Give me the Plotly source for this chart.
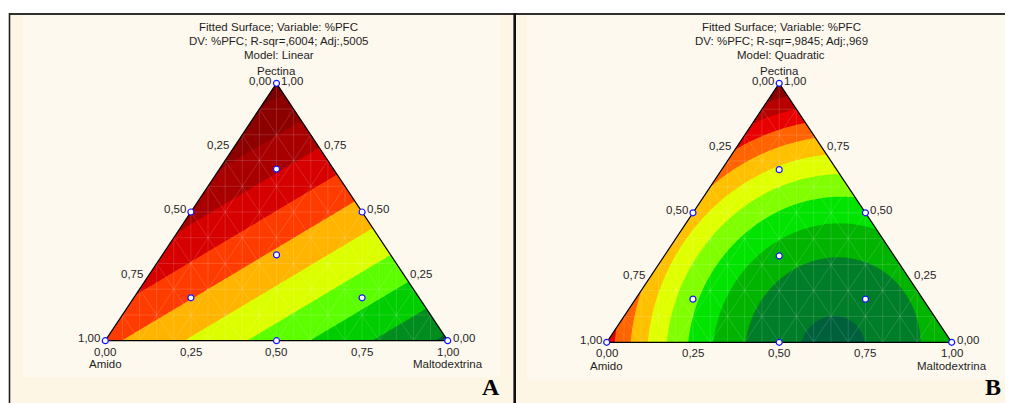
import numpy as np
import plotly.graph_objects as go

# page body has an 8px margin: figure is drawn from (8, 8) of the 1013x403 window
OFF = 8
W, H = 1013 - OFF, 403 - OFF

# ---------------- data ----------------
tick_vals = [0.0, 0.25, 0.5, 0.75, 1.0]
tick_text = ["0,00", "0,25", "0,50", "0,75", "1,00"]
axis_names = ["Amido", "Pectina", "Maltodextrina"]

# simplex-centroid design with axial points (fractions)
design_amido = [1.0, 0.0, 0.0, 0.5, 0.5, 0.0, 2 / 3, 1 / 6, 1 / 6, 1 / 3]
design_pectina = [0.0, 1.0, 0.0, 0.5, 0.0, 0.5, 1 / 6, 2 / 3, 1 / 6, 1 / 3]
design_malto = [0.0, 0.0, 1.0, 0.0, 0.5, 0.5, 1 / 6, 1 / 6, 2 / 3, 1 / 3]

# fitted model coefficients (contour-level units)
linear_coef = [5.76, 9.90, 0.30]                         # b_Amido, b_Pectina, b_Malto
quad_coef = [8.04, 10.58, 2.46, -12.73, -17.86, -14.2]   # b1, b2, b3, b12, b13, b23

levels_a = [0.5, 1.5, 2.5, 3.5, 4.5, 5.5, 6.5, 7.5, 8.5, 9.5]
levels_b = [0.5, 1.5, 2.5, 3.5, 4.5, 5.5, 6.5, 7.5, 8.5, 9.5, 10.5]

colors_a = ["#00553A", "#008C1E", "#00CE00", "#5CFF00", "#DCFF00", "#FFB400",
            "#FF3C00", "#D60000", "#A80000", "#8C0000", "#780000"]
colors_b = ["#00603C", "#007D28", "#00B400", "#00E400", "#80FF00", "#E0FF00",
            "#FFC000", "#FF6400", "#E80000", "#B80000", "#8C0000", "#700000"]

titles_a = ["Fitted Surface; Variable: %PFC", "DV: %PFC; R-sqr=,6004; Adj:,5005", "Model: Linear"]
titles_b = ["Fitted Surface; Variable: %PFC", "DV: %PFC; R-sqr=,9845; Adj:,969", "Model: Quadratic"]
panel_letters = ["A", "B"]

# ---------------- layout geometry (window pixels) ----------------
FONT = "Liberation Sans, Arial, sans-serif"
OUTER_BG = "#FEF6E4"
INNER_BG = "#FEF9EE"
TXT = "#1E1E1E"
EXT = 0.06  # axis range padding around the unit triangle box


def px(x):
    return (x - OFF) / W


def py(y):
    return 1 - (y - OFF) / H


# triangle boxes: (left, right, top, bottom) in window pixels
tri_a = (105.3, 447.7, 83.3, 340.7)
tri_b = (606.7, 951.7, 83.3, 342.3)


def domains(tri):
    l, r, t, b = tri
    w, h = r - l, b - t
    xd = [px(l - EXT * w), px(r + EXT * w)]
    yd = [py(b + EXT * h), py(t - EXT * h)]
    return xd, yd


fig = go.Figure()

n = 241
gx = np.linspace(0, 1, n)
gy = np.linspace(0, 1, n)
GX, GY = np.meshgrid(gx, gy)
P = GY
M = GX - GY / 2
A = 1 - M - P


def linear_surface(c):
    return c[0] * A + c[1] * P + c[2] * M


def quad_surface(c):
    return (c[0] * A + c[1] * P + c[2] * M + c[3] * A * P + c[4] * A * M + c[5] * P * M)


def to_xy(a, p, m):
    a, p, m = np.asarray(a), np.asarray(p), np.asarray(m)
    return m + p / 2, p


def add_panel(idx, z, levels, colors, titles, tri):
    xa = "x" if idx == 0 else "x2"
    ya = "y" if idx == 0 else "y2"
    nb = len(colors)
    cscale = [[j / (nb - 1), c] for j, c in enumerate(colors)]
    fig.add_trace(go.Contour(
        x=gx, y=gy, z=z, xaxis=xa, yaxis=ya,
        autocontour=False,
        contours=dict(start=levels[0], end=levels[-1], size=levels[1] - levels[0],
                      coloring="fill", showlines=False),
        line=dict(width=0, smoothing=0),
        colorscale=cscale, showscale=False, hoverinfo="skip"))

    # faint mesh lines inside the triangle
    lx, ly = [], []
    for k in range(1, 10):
        v = k / 10
        lx += [v / 2, 1 - v / 2, None]; ly += [v, v, None]                 # constant Pectina
        lx += [v, v + (1 - v) / 2, None]; ly += [0, 1 - v, None]           # constant Malto
        lx += [1 - v, (1 - v) / 2, None]; ly += [0, 1 - v, None]           # constant Amido
    for k in range(1, 20):
        c = k / 20
        top = 2 * c if c <= 0.5 else 2 * (1 - c)
        lx += [c, c, None]; ly += [0, top, None]
    fig.add_trace(go.Scatter(x=lx, y=ly, xaxis=xa, yaxis=ya, mode="lines",
                             line=dict(color="rgba(255,255,255,0.2)", width=0.7),
                             hoverinfo="skip", showlegend=False))

    # mask outside the triangle (extends past the contour box)
    e = EXT / 2
    fig.add_trace(go.Scatter(
        x=[0, 0.5, 0.5, -e, -e, 0, None, 1, 0.5, 0.5, 1 + e, 1 + e, 1],
        y=[0, 1, 1 + e, 1 + e, -e, -e, None, 0, 1, 1 + e, 1 + e, -e, -e],
        xaxis=xa, yaxis=ya, mode="lines", fill="toself",
        fillcolor=INNER_BG, line=dict(width=0, color=INNER_BG),
        hoverinfo="skip", showlegend=False))
    fig.add_trace(go.Scatter(
        x=[-e, 1 + e, 1 + e, -e, -e], y=[0, 0, -e, -e, 0],
        xaxis=xa, yaxis=ya, mode="lines", fill="toself",
        fillcolor=INNER_BG, line=dict(width=0, color=INNER_BG),
        hoverinfo="skip", showlegend=False))
    # triangle outline
    fig.add_trace(go.Scatter(x=[0, 0.5, 1, 0], y=[0, 1, 0, 0], xaxis=xa, yaxis=ya,
                             mode="lines", line=dict(color="black", width=1.2),
                             hoverinfo="skip", showlegend=False))
    # design points
    dx, dy = to_xy(design_amido, design_pectina, design_malto)
    fig.add_trace(go.Scatter(x=dx, y=dy, xaxis=xa, yaxis=ya, mode="markers",
                             marker=dict(size=6, color="white",
                                         line=dict(color="#1414FF", width=1.2)),
                             hoverinfo="skip", showlegend=False))

    fnt = dict(family=FONT, size=11.5, color=TXT)
    for v, t in zip(tick_vals, tick_text):  # left edge: Amido fraction
        x, y = to_xy(v, 1 - v, 0)
        fig.add_annotation(x=float(x), y=float(y), xref=xa, yref=ya, text=t, showarrow=False,
                           xanchor="right", yanchor="middle", xshift=-3, yshift=2.5, font=fnt)
    for v, t in zip(tick_vals, tick_text):  # right edge: Pectina fraction
        x, y = to_xy(0, v, 1 - v)
        fig.add_annotation(x=float(x), y=float(y), xref=xa, yref=ya, text=t, showarrow=False,
                           xanchor="left", yanchor="middle", xshift=3, yshift=2.5, font=fnt)
    for v, t in zip(tick_vals, tick_text):  # bottom edge: Maltodextrina fraction
        x, y = to_xy(1 - v, 0, v)
        fig.add_annotation(x=float(x), y=float(y), xref=xa, yref=ya, text=t, showarrow=False,
                           xanchor="center", yanchor="middle", yshift=-11, font=fnt)
    fig.add_annotation(x=0, y=0, xref=xa, yref=ya, text=axis_names[0], showarrow=False,
                       xanchor="center", yanchor="middle", yshift=-23.5, font=fnt)
    fig.add_annotation(x=0.5, y=1, xref=xa, yref=ya, text=axis_names[1], showarrow=False,
                       xanchor="center", yanchor="middle", yshift=12.5, font=fnt)
    fig.add_annotation(x=1, y=0, xref=xa, yref=ya, text=axis_names[2], showarrow=False,
                       xanchor="center", yanchor="middle", yshift=-23.5, font=fnt)

    cx = (tri[0] + tri[1]) / 2 + 2
    for t, yy in zip(titles, [27.3, 41.4, 54.6]):
        fig.add_annotation(x=px(cx), y=py(yy), xref="paper", yref="paper", text=t,
                           showarrow=False, xanchor="center", yanchor="middle", font=fnt)


add_panel(0, linear_surface(linear_coef), levels_a, colors_a, titles_a, tri_a)
add_panel(1, quad_surface(quad_coef), levels_b, colors_b, titles_b, tri_b)

for letter, (lx_, ly_) in zip(panel_letters, [(491, 386.5), (993, 386.5)]):
    fig.add_annotation(x=px(lx_), y=py(ly_), xref="paper", yref="paper",
                       text="<b>" + letter + "</b>", showarrow=False,
                       xanchor="center", yanchor="middle",
                       font=dict(family="Liberation Serif, Times New Roman, serif", size=24, color="black"))

shapes = [
    dict(type="rect", xref="paper", yref="paper", x0=px(9.5), x1=px(514.5), y0=py(410), y1=py(14),
         fillcolor=OUTER_BG, line=dict(width=0), layer="below"),
    dict(type="rect", xref="paper", yref="paper", x0=px(514.5), x1=px(1020), y0=py(410), y1=py(14),
         fillcolor=OUTER_BG, line=dict(width=0), layer="below"),
    dict(type="rect", xref="paper", yref="paper", x0=px(23), x1=px(500), y0=py(377), y1=py(14.5),
         fillcolor=INNER_BG, line=dict(width=0), layer="below"),
    dict(type="rect", xref="paper", yref="paper", x0=px(527), x1=px(1020), y0=py(379.3), y1=py(14.5),
         fillcolor=INNER_BG, line=dict(width=0), layer="below"),
    dict(type="line", xref="paper", yref="paper", x0=px(9), x1=px(1020), y0=py(14), y1=py(14),
         line=dict(color="#303030", width=2)),
    dict(type="line", xref="paper", yref="paper", x0=px(9.5), x1=px(9.5), y0=py(13), y1=py(410),
         line=dict(color="#202020", width=1.6)),
    dict(type="line", xref="paper", yref="paper", x0=px(514.7), x1=px(514.7), y0=py(13), y1=py(410),
         line=dict(color="#101010", width=2.6)),
]

xd_a, yd_a = domains(tri_a)
xd_b, yd_b = domains(tri_b)
ax_common = dict(visible=False, showgrid=False, zeroline=False,
                 range=[-EXT, 1 + EXT], fixedrange=True)
fig.update_layout(
    width=W, height=H,
    margin=dict(l=0, r=0, t=0, b=0),
    paper_bgcolor="white", plot_bgcolor="rgba(0,0,0,0)",
    showlegend=False,
    shapes=shapes,
    xaxis=dict(domain=xd_a, anchor="y", **ax_common),
    yaxis=dict(domain=yd_a, anchor="x", **ax_common),
    xaxis2=dict(domain=xd_b, anchor="y2", **ax_common),
    yaxis2=dict(domain=yd_b, anchor="x2", **ax_common),
)

fig.write_html("out.html")
